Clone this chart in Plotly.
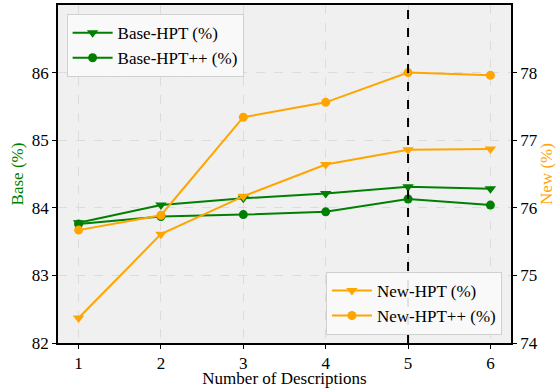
import plotly.graph_objects as go

x_vals = [1, 2, 3, 4, 5, 6]
base_hpt = [83.78, 84.04, 84.14, 84.21, 84.31, 84.28]
base_hptpp = [83.76, 83.87, 83.90, 83.94, 84.13, 84.04]
new_hpt = [74.37, 75.61, 76.17, 76.64, 76.86, 76.87]
new_hptpp = [75.67, 75.89, 77.34, 77.56, 78.00, 77.96]
best_x = 5

GREEN = "#008000"
ORANGE = "#FFA500"
FONT = "Liberation Serif, Times New Roman, serif"
FS = 17

fig = go.Figure()
fig.add_trace(go.Scatter(x=x_vals, y=base_hpt, name="Base-HPT (%)", mode="lines+markers",
                         line=dict(color=GREEN, width=2), marker=dict(symbol="triangle-down", size=10, color=GREEN),
                         legend="legend"))
fig.add_trace(go.Scatter(x=x_vals, y=base_hptpp, name="Base-HPT++ (%)", mode="lines+markers",
                         line=dict(color=GREEN, width=2), marker=dict(symbol="circle", size=9, color=GREEN),
                         legend="legend"))
fig.add_trace(go.Scatter(x=x_vals, y=new_hpt, name="New-HPT (%)", mode="lines+markers", yaxis="y2",
                         line=dict(color=ORANGE, width=2), marker=dict(symbol="triangle-down", size=10, color=ORANGE),
                         legend="legend2"))
fig.add_trace(go.Scatter(x=x_vals, y=new_hptpp, name="New-HPT++ (%)", mode="lines+markers", yaxis="y2",
                         line=dict(color=ORANGE, width=2), marker=dict(symbol="circle", size=9, color=ORANGE),
                         legend="legend2"))

fig.add_vline(x=best_x, line=dict(color="black", width=2, dash="dash"), layer="above")

axis_common = dict(showline=True, linecolor="black", linewidth=1.5, automargin=False,
                   ticks="outside", ticklen=4, tickcolor="black",
                   gridcolor="#dcdcdc", griddash="dash", gridwidth=1,
                   zeroline=False, tickfont=dict(size=FS, color="black", family=FONT))

fig.update_layout(
    width=556, height=388,
    margin=dict(l=58, r=45, t=5, b=45),
    paper_bgcolor="white", plot_bgcolor="#f0f0f0",
    font=dict(family=FONT, size=FS, color="black"),
    xaxis=dict(range=[0.75, 6.25], tickvals=x_vals, mirror=True, showgrid=True,
               title=dict(text="Number of Descriptions", font=dict(size=FS, color="black"), standoff=3),
               **axis_common),
    yaxis=dict(range=[82, 87], tickvals=[82, 83, 84, 85, 86], showgrid=True,
               title=dict(text="Base (%)", font=dict(size=FS, color=GREEN), standoff=4),
               **axis_common),
    yaxis2=dict(range=[74, 79], tickvals=[74, 75, 76, 77, 78], overlaying="y", side="right", showgrid=False,
                title=dict(text="New (%)", font=dict(size=FS, color=ORANGE), standoff=2),
                **axis_common),
    legend=dict(x=0.019, y=0.973, xanchor="left", yanchor="top",
                bgcolor="rgba(250,250,250,0.9)", bordercolor="#d0d0d0", borderwidth=1,
                font=dict(size=FS, family=FONT), itemwidth=40, tracegroupgap=0),
    legend2=dict(x=0.98, y=0.024, xanchor="right", yanchor="bottom",
                 bgcolor="rgba(250,250,250,0.9)", bordercolor="#d0d0d0", borderwidth=1,
                 font=dict(size=FS, family=FONT), itemwidth=40, tracegroupgap=0),
)

fig.write_html("out.html", config={"displayModeBar": False},
               post_script="document.body.style.margin='0';document.body.style.overflow='hidden';")
